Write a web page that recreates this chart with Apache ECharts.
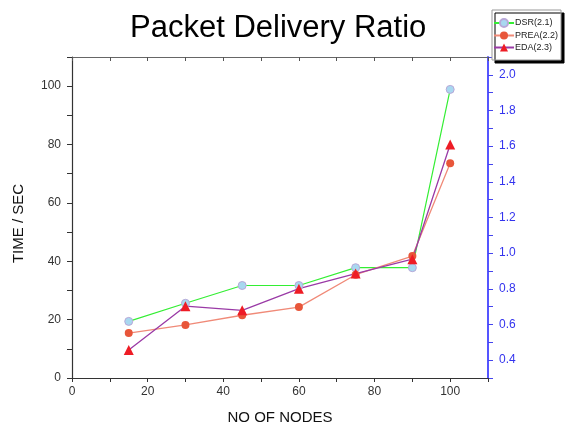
<!DOCTYPE html>
<html>
<head>
<meta charset="utf-8">
<script src="https://cdn.jsdelivr.net/npm/echarts@6/dist/echarts.min.js"></script>
<style>html,body{margin:0;padding:0;background:#fff;}#c{width:565px;height:423px;}</style>
</head>
<body>
<div id="c"></div>
<script>
var nodes = [15, 30, 45, 60, 75, 90, 100];
var dsr = [19.4, 25.6, 31.7, 31.7, 37.8, 37.8, 98.9];
var prea = [15.4, 18.2, 21.5, 24.3, 35.4, 41.8, 73.6];
var eda = [9.6, 24.6, 23.2, 30.6, 35.8, 40.7, 80.0];
var seriesNames = ['DSR(2.1)', 'PREA(2.2)', 'EDA(2.3)'];

function pairs(vals) { return nodes.map(function (n, i) { return [n, vals[i]]; }); }
var font = 'Liberation Sans, Arial, sans-serif';

var chart = echarts.init(document.getElementById('c'), null, {renderer: 'canvas'});
chart.setOption({
  animation: false,
  backgroundColor: '#fff',
  title: {
    text: 'Packet Delivery Ratio', left: 125, top: 8,
    textStyle: {fontFamily: font, fontSize: 31, fontWeight: 'normal', color: '#000'}
  },
  legend: {
    orient: 'vertical', left: 492, top: 10,
    data: seriesNames,
    itemWidth: 20, itemHeight: 10, itemGap: 3,
    padding: [8, 3, 8, 1],
    backgroundColor: '#fff', borderColor: '#999', borderWidth: 1,
    shadowColor: '#000', shadowBlur: 0, shadowOffsetX: 3, shadowOffsetY: 3,
    textStyle: {fontFamily: font, fontSize: 9, color: '#222', padding: [0, 0, 0, -4]}
  },
  grid: {left: 72, right: 77, top: 57, bottom: 45, containLabel: false, outerBoundsMode: 'none'},
  xAxis: [{
    type: 'value', min: 0, max: 110, interval: 10, position: 'bottom',
    name: 'NO OF NODES', nameLocation: 'middle', nameGap: 32,
    nameTextStyle: {fontFamily: font, fontSize: 15, color: '#111'},
    axisLine: {show: true, onZero: false, lineStyle: {color: '#333', width: 1.2}},
    axisTick: {show: true, inside: false, length: 4, lineStyle: {color: '#333'}},
    axisLabel: {fontFamily: font, fontSize: 12, color: '#333', margin: 8,
      formatter: function (v) { return v % 20 === 0 && v <= 100 ? String(v) : ''; }},
    splitLine: {show: false}
  }, {
    type: 'value', min: 0, max: 110, interval: 10, position: 'top',
    axisLine: {show: true, onZero: false, lineStyle: {color: '#666', width: 1.2}},
    axisTick: {show: true, inside: true, length: 4, lineStyle: {color: '#555'}},
    axisLabel: {show: false}, splitLine: {show: false}
  }],
  yAxis: [{
    type: 'value', min: 0, max: 110, interval: 10, position: 'left',
    name: 'TIME / SEC', nameLocation: 'middle', nameGap: 46,
    nameTextStyle: {fontFamily: font, fontSize: 15, color: '#111', padding: [0, 12, 0, 0]},
    axisLine: {show: true, onZero: false, lineStyle: {color: '#333', width: 1.2}},
    axisTick: {show: true, inside: false, length: 5, lineStyle: {color: '#333'}},
    axisLabel: {fontFamily: font, fontSize: 12, color: '#333', margin: 11,
      formatter: function (v) { return v % 20 === 0 && v <= 100 ? String(v) : ''; }},
    splitLine: {show: false}
  }, {
    type: 'value', min: 0.3, max: 2.1, interval: 0.1, position: 'right',
    axisLine: {show: true, onZero: false, lineStyle: {color: '#5555ff', width: 2}},
    axisTick: {show: true, inside: false, length: 5, lineStyle: {color: '#4444ee'}},
    axisLabel: {fontFamily: font, fontSize: 12, color: '#3333ee', margin: 11,
      formatter: function (v) {
        var t = Math.round(v * 10);
        return (t % 2 === 0 && t >= 4 && t <= 20) ? (t / 10).toFixed(1) : '';
      }},
    splitLine: {show: false}
  }],
  series: [{
    name: seriesNames[0], type: 'line', data: pairs(dsr),
    symbol: 'circle', symbolSize: 8,
    lineStyle: {color: '#33ee33', width: 1.2},
    itemStyle: {color: '#a8d8f0', borderColor: '#b8a8d8', borderWidth: 1}
  }, {
    name: seriesNames[1], type: 'line', data: pairs(prea),
    symbol: 'circle', symbolSize: 8,
    lineStyle: {color: '#f08a78', width: 1.3},
    itemStyle: {color: '#e8563a', borderColor: '#e8563a', borderWidth: 0}
  }, {
    name: seriesNames[2], type: 'line', data: pairs(eda),
    symbol: 'triangle', symbolSize: 10,
    lineStyle: {color: '#9a3aa6', width: 1.3},
    itemStyle: {color: '#ee1c25', borderWidth: 0}
  }]
});
</script>
</body>
</html>
